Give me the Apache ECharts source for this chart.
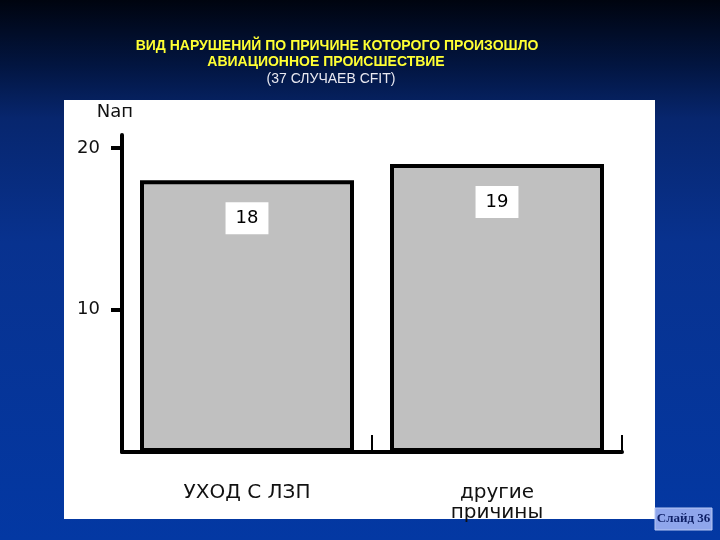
<!DOCTYPE html>
<html>
<head>
<meta charset="utf-8">
<script src="https://cdn.jsdelivr.net/npm/echarts@6/dist/echarts.min.js"></script>
<style>
html,body{margin:0;padding:0;width:720px;height:540px;overflow:hidden;}
#c{width:720px;height:540px;}
</style>
</head>
<body>
<div id="c"></div>
<script>
const categories = ['УХОД С ЛЗП', 'другие\nпричины'];
const values = [18, 19];
const yTickValues = [10, 20];
const titleLines = ['ВИД НАРУШЕНИЙ ПО ПРИЧИНЕ КОТОРОГО ПРОИЗОШЛО', 'АВИАЦИОННОЕ ПРОИСШЕСТВИЕ', '(37 СЛУЧАЕВ CFIT)'];
const yName = 'Nап';
const slideLabel = 'Слайд 36';

const chart = echarts.init(document.getElementById('c'));
const font = 'DejaVu Sans';
chart.setOption({
  animation: false,
  backgroundColor: {
    type: 'linear', x: 0, y: 0, x2: 0, y2: 1,
    colorStops: [
      {offset: 0, color: '#00040f'},
      {offset: 0.12, color: '#021540'},
      {offset: 0.22, color: '#07266e'},
      {offset: 0.45, color: '#08328f'},
      {offset: 1, color: '#0338a3'}
    ]
  },
  graphic: [
    {type: 'rect', z: -100, shape: {x: 64, y: 100, width: 591, height: 419}, style: {fill: '#ffffff'}},
    {type: 'text', z: 10, x: 337, y: 46, style: {text: titleLines[0], fill: '#ffff33', font: 'bold 14px "Liberation Sans"', align: 'center', verticalAlign: 'middle'}},
    {type: 'text', z: 10, x: 326, y: 62, style: {text: titleLines[1], fill: '#ffff33', font: 'bold 14px "Liberation Sans"', align: 'center', verticalAlign: 'middle'}},
    {type: 'text', z: 10, x: 331, y: 79, style: {text: titleLines[2], fill: '#e8e8f0', font: '14px "Liberation Sans"', align: 'center', verticalAlign: 'middle'}},
    {type: 'rect', z: 10, shape: {x: 655, y: 508, width: 57, height: 22}, style: {fill: '#8fa6ec', stroke: '#b8c8f4', lineWidth: 1}},
    {type: 'text', z: 11, x: 683.5, y: 519, style: {text: slideLabel, fill: '#0d1f66', font: 'bold 13px "Liberation Serif"', align: 'center', verticalAlign: 'middle'}}
  ],
  grid: {left: 122, right: 98, top: 135, bottom: 88, containLabel: false},
  xAxis: {
    type: 'category',
    data: categories,
    axisLine: {lineStyle: {color: '#000', width: 4}},
    axisTick: {show: true, inside: true, length: 17, lineStyle: {color: '#000', width: 2}},
    axisLabel: {color: '#111', fontFamily: font, fontSize: 20, lineHeight: 20, margin: 31}
  },
  yAxis: {
    type: 'value',
    min: 1.2,
    max: 20.8,
    startValue: 1.2,
    name: yName,
    nameLocation: 'end',
    nameGap: 14,
    nameTextStyle: {color: '#111', fontFamily: font, fontSize: 18, align: 'center', padding: [0, 14, 0, 0]},
    splitLine: {show: false},
    axisLine: {show: true, lineStyle: {color: '#000', width: 4}},
    axisTick: {show: true, length: 11, lineStyle: {color: '#000', width: 4}, customValues: yTickValues},
    axisLabel: {color: '#111', fontFamily: font, fontSize: 18, margin: 22, customValues: yTickValues}
  },
  series: [{
    type: 'bar',
    data: values,
    barWidth: 214,
    itemStyle: {color: '#c0c0c0', borderColor: '#000', borderWidth: 4},
    label: {
      show: true, position: 'insideTop', distance: 22,
      color: '#000', fontFamily: font, fontSize: 18,
      backgroundColor: '#fff', padding: [7, 10]
    }
  }]
});
</script>
</body>
</html>
